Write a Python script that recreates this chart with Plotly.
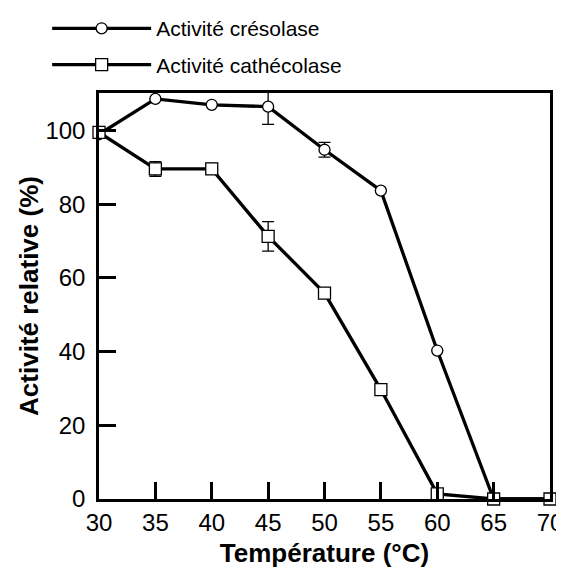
import plotly.graph_objects as go

# Temperature (°C)
temperature = [30, 35, 40, 45, 50, 55, 60, 65, 70]

# Relative activity (%)
cresolase = [99, 108.6, 107, 106.5, 94.8, 83.7, 40.3, 0, 0]
cresolase_err = [0, 0, 0, 4.8, 2, 0, 0, 0, 0]
catecholase = [99.5, 89.6, 89.6, 71.3, 55.9, 29.7, 1.4, 0, 0]
catecholase_err = [0, 2, 1.5, 4, 1, 0, 0, 0, 0]

x_ticks = [30, 35, 40, 45, 50, 55, 60, 65, 70]
y_ticks = [0, 20, 40, 60, 80, 100]

fig = go.Figure()

fig.add_trace(go.Scatter(
    x=temperature, y=cresolase, name='Activité crésolase',
    mode='lines+markers', legendgroup='a', cliponaxis=False,
    line=dict(color='black', width=3.3),
    marker=dict(symbol='circle', size=11, color='white',
                line=dict(color='black', width=1.3)),
    error_y=dict(type='data', array=cresolase_err, color='black',
                 thickness=1.3, width=6),
))
fig.add_trace(go.Scatter(
    x=temperature, y=catecholase, name='Activité cathécolase',
    mode='lines+markers', legendgroup='b', cliponaxis=False,
    line=dict(color='black', width=3.3),
    marker=dict(symbol='square', size=12, color='white',
                line=dict(color='black', width=1.3)),
    error_y=dict(type='data', array=catecholase_err, color='black',
                 thickness=1.3, width=6),
))

# the page body has an 8px margin, so everything is shifted up/left by 8px
fig.update_layout(
    width=564, height=569,
    margin=dict(l=91, r=22, t=85, b=78, autoexpand=False),
    plot_bgcolor='white', paper_bgcolor='white',
    font=dict(family='Liberation Sans, Arial', color='black'),
    showlegend=True,
    legend=dict(x=-0.115, y=1.209, xanchor='left', yanchor='top',
                font=dict(size=21), itemwidth=99,
                traceorder='grouped', tracegroupgap=6,
                bgcolor='rgba(0,0,0,0)'),
    xaxis=dict(
        range=[30, 70], tickmode='array', tickvals=x_ticks,
        ticks='inside', ticklen=17, tickwidth=2.5, tickcolor='#000000',
        showline=True, linewidth=2.5, linecolor='black', mirror=True,
        showgrid=False, zeroline=False,
        tickfont=dict(size=24), automargin=False,
        title=dict(text='<b>Température (°C)</b>', font=dict(size=26),
                   standoff=10),
    ),
    yaxis=dict(
        range=[0, 110.2], tickmode='array', tickvals=y_ticks,
        ticks='inside', ticklen=17, tickwidth=2.5, tickcolor='#000000',
        showline=True, linewidth=2.5, linecolor='black', mirror=True,
        showgrid=False, zeroline=False,
        tickfont=dict(size=24), automargin=False, ticklabelstandoff=6,
        title=dict(text='<b>Activité relative (%)</b>', font=dict(size=26),
                   standoff=0),
    ),
)

fig.write_html("out.html")
